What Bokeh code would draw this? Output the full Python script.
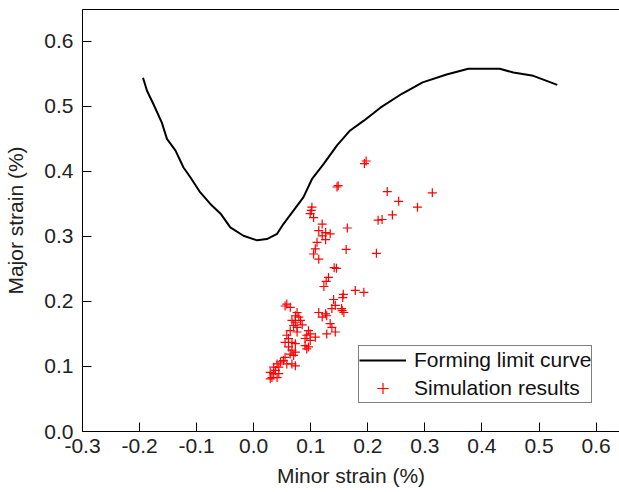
from bokeh.plotting import figure
from bokeh.models import LinearAxis, FixedTicker, PrintfTickFormatter, Legend, LegendItem
from bokeh.embed import file_html
from bokeh.resources import INLINE

# Forming limit curve (minor strain, major strain)
flc_x = [-0.194, -0.187, -0.176, -0.161, -0.152, -0.137, -0.123, -0.111, -0.094, -0.076,
         -0.058, -0.041, -0.018, 0.006, 0.023, 0.041, 0.052, 0.070, 0.087, 0.102,
         0.123, 0.146, 0.169, 0.193, 0.222, 0.259, 0.296, 0.338, 0.376, 0.405,
         0.431, 0.455, 0.490, 0.511, 0.532]
flc_y = [0.544, 0.524, 0.504, 0.475, 0.450, 0.432, 0.406, 0.391, 0.368, 0.350,
         0.335, 0.314, 0.301, 0.294, 0.296, 0.304, 0.319, 0.340, 0.360, 0.388,
         0.412, 0.440, 0.463, 0.478, 0.498, 0.519, 0.537, 0.549, 0.558, 0.558,
         0.558, 0.552, 0.547, 0.540, 0.533]

# Simulation results
sim_x = [0.194, 0.197, 0.146, 0.148, 0.234, 0.254, 0.287, 0.313, 0.243, 0.218,
         0.225, 0.102, 0.101, 0.099, 0.105, 0.120, 0.164, 0.114, 0.126, 0.134,
         0.120, 0.126, 0.111, 0.108, 0.162, 0.105, 0.114, 0.215, 0.141, 0.145,
         0.131, 0.127, 0.123, 0.178, 0.193, 0.157, 0.156, 0.140, 0.143, 0.137,
         0.155, 0.158, 0.154, 0.114, 0.126, 0.120, 0.128, 0.134, 0.137, 0.128,
         0.143, 0.058, 0.055, 0.064, 0.076, 0.073, 0.079, 0.067, 0.073, 0.082,
         0.070, 0.076, 0.085, 0.064, 0.076, 0.096, 0.093, 0.099, 0.108, 0.090,
         0.099, 0.058, 0.061, 0.055, 0.067, 0.073, 0.090, 0.093, 0.096, 0.061,
         0.067, 0.064, 0.073, 0.070, 0.055, 0.052, 0.047, 0.058, 0.067, 0.073,
         0.041, 0.044, 0.035, 0.038, 0.029, 0.035, 0.044, 0.032, 0.029, 0.041]
sim_y = [0.412, 0.416, 0.376, 0.378, 0.369, 0.354, 0.345, 0.367, 0.333, 0.325,
         0.326, 0.345, 0.340, 0.335, 0.329, 0.319, 0.313, 0.309, 0.306, 0.304,
         0.301, 0.295, 0.291, 0.281, 0.280, 0.273, 0.265, 0.274, 0.252, 0.251,
         0.237, 0.231, 0.223, 0.217, 0.214, 0.211, 0.206, 0.203, 0.194, 0.189,
         0.186, 0.183, 0.189, 0.183, 0.181, 0.176, 0.178, 0.166, 0.160, 0.150,
         0.153, 0.196, 0.193, 0.191, 0.183, 0.178, 0.176, 0.171, 0.168, 0.171,
         0.163, 0.160, 0.164, 0.155, 0.153, 0.155, 0.148, 0.150, 0.145, 0.143,
         0.140, 0.148, 0.143, 0.137, 0.137, 0.135, 0.132, 0.127, 0.130, 0.130,
         0.125, 0.119, 0.122, 0.117, 0.114, 0.109, 0.107, 0.104, 0.104, 0.101,
         0.104, 0.099, 0.099, 0.094, 0.091, 0.089, 0.089, 0.083, 0.081, 0.083]

x_ticks = [-0.3, -0.2, -0.1, 0.0, 0.1, 0.2, 0.3, 0.4, 0.5, 0.6]
y_ticks = [0.0, 0.1, 0.2, 0.3, 0.4, 0.5, 0.6]

FONT = "Liberation Sans"

p = figure(width=619, height=492, x_range=(-0.3, 0.641), y_range=(0.0, 0.649),
           output_backend="svg", toolbar_location=None,
           min_border_left=82, min_border_right=0, min_border_top=9, min_border_bottom=61)
p.outline_line_color = None
p.grid.visible = False
p.background_fill_color = "white"
p.border_fill_color = "white"

flc = p.line(flc_x, flc_y, line_color="black", line_width=2)
sim = p.scatter(sim_x, sim_y, marker="cross", size=9, line_color="#ff0000", line_width=1.2)

for ax, ticks in ((p.xaxis[0], x_ticks), (p.yaxis[0], y_ticks)):
    ax.ticker = FixedTicker(ticks=ticks)
    ax.formatter = PrintfTickFormatter(format="%.1f")
    ax.major_tick_in = 9
    ax.major_tick_out = 0
    ax.minor_tick_line_color = None
    ax.axis_line_color = "black"
    ax.major_tick_line_color = "black"
    ax.major_label_text_font = FONT
    ax.major_label_text_font_size = "21px"
    ax.major_label_text_color = "#222222"
    ax.axis_label_text_font = FONT
    ax.axis_label_text_font_size = "21px"
    ax.axis_label_text_font_style = "normal"
    ax.axis_label_text_color = "#222222"

p.xaxis[0].axis_label = "Minor strain (%)"
p.yaxis[0].axis_label = "Major strain (%)"
p.xaxis[0].major_label_standoff = 7
p.yaxis[0].major_label_standoff = 9
p.xaxis[0].axis_label_standoff = 8
p.yaxis[0].axis_label_standoff = 14

top = LinearAxis(ticker=FixedTicker(ticks=[]), major_tick_line_color=None,
                 minor_tick_line_color=None, major_label_text_font_size="0px",
                 major_label_standoff=0, axis_line_color="black")
p.add_layout(top, "above")

legend = Legend(items=[LegendItem(label="Forming limit curve", renderers=[flc]),
                       LegendItem(label="Simulation results", renderers=[sim])],
                location=(276, 28))
legend.border_line_color = "black"
legend.border_line_width = 1
legend.background_fill_color = "white"
legend.background_fill_alpha = 1
legend.label_text_font = FONT
legend.label_text_font_size = "21px"
legend.label_text_color = "#111111"
legend.glyph_width = 47
legend.glyph_height = 28
legend.label_height = 28
legend.label_standoff = 8
legend.padding = 0
legend.spacing = 0
legend.margin = 0
p.add_layout(legend, "center")

open("out.html", "w").write(file_html(p, INLINE))
